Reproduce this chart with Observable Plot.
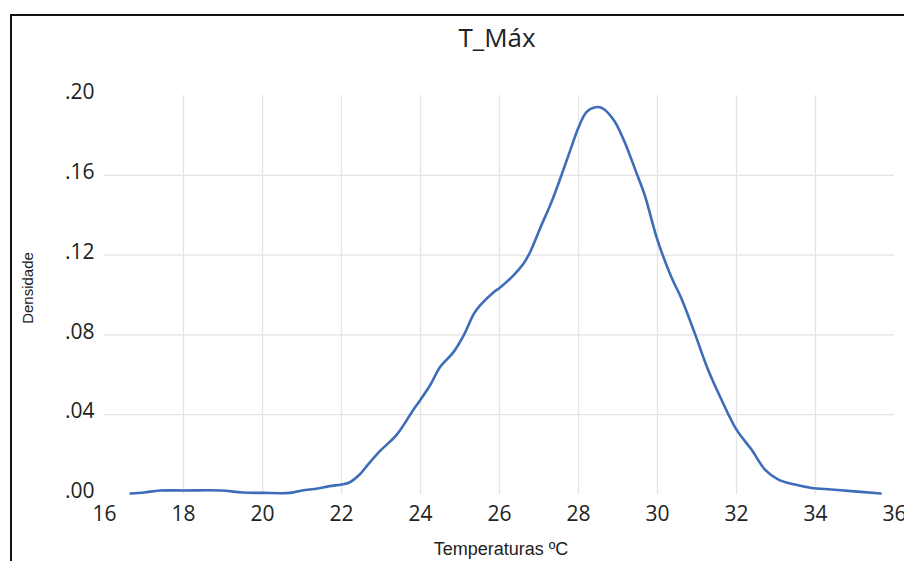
<!DOCTYPE html>
<html>
<head>
<meta charset="utf-8">
<script src="https://cdn.jsdelivr.net/npm/d3@7"></script>
<script src="https://cdn.jsdelivr.net/npm/@observablehq/plot@0.6"></script>
<style>
  html, body { margin: 0; padding: 0; background: #fff; }
  #wrap { position: relative; width: 904px; height: 561px; overflow: hidden; }
  #frame { position: absolute; left: 10px; top: 14px; width: 1000px; height: 1000px;
           border-top: 2px solid #111; border-left: 2px solid #111; box-sizing: border-box; }
  .lbl { position: absolute; white-space: nowrap; color: #222; line-height: 1; }
  #title { font-family: "Open Sans", sans-serif; font-size: 26px; left: 497px; top: 24px; transform: translateX(-50%); color: #222; }
  #xlabel { font-family: "Liberation Sans", Arial, sans-serif; font-size: 18px; left: 501px; top: 540px; transform: translateX(-50%); }
  #ylabel { font-family: "Liberation Sans", Arial, sans-serif; font-size: 15px; left: 27px; top: 288px; transform: translate(-50%, -50%) rotate(-90deg); }
  #chart { position: absolute; left: 0; top: 0; }
</style>
</head>
<body>
<div id="wrap">
  <div id="chart"></div>
  <div id="frame"></div>
  <div class="lbl" id="title">T_Máx</div>
  <div class="lbl" id="xlabel">Temperaturas ºC</div>
  <div class="lbl" id="ylabel">Densidade</div>
</div>
<script>
const temps = [16.66, 17.0, 17.4, 18.0, 18.95, 19.5, 20.0, 20.7, 21.0, 21.4, 21.7, 22.0, 22.2, 22.46, 22.63, 22.97,
  23.4, 23.82, 24.0, 24.25, 24.5, 24.84, 25.1, 25.35, 25.52, 25.86, 26.0, 26.36, 26.61, 26.78, 27.04, 27.3,
  27.55, 27.8, 28.0, 28.2, 28.4, 28.6, 28.9, 29.15, 29.33, 29.5, 29.67, 30.0, 30.35, 30.6, 30.94, 31.28,
  31.62, 32.0, 32.38, 32.72, 33.06, 33.48, 33.9, 34.4, 34.9, 35.65];
const density = [0.0005, 0.001, 0.002, 0.002, 0.002, 0.001, 0.0008, 0.0008, 0.002, 0.003, 0.0042, 0.005, 0.006, 0.010, 0.014, 0.0217,
  0.030, 0.0425, 0.0475, 0.055, 0.064, 0.0715, 0.080, 0.0905, 0.095, 0.1015, 0.1035, 0.110, 0.1158, 0.1217, 0.134, 0.1458,
  0.159, 0.173, 0.184, 0.1917, 0.194, 0.1937, 0.1875, 0.1775, 0.1685, 0.1595, 0.1505, 0.1275, 0.109, 0.0985, 0.081, 0.0625,
  0.0475, 0.0325, 0.0225, 0.0125, 0.0075, 0.005, 0.0033, 0.0025, 0.0017, 0.0005];
const xTicks = [16, 18, 20, 22, 24, 26, 28, 30, 32, 34, 36];
const xGrid = [18, 20, 22, 24, 26, 28, 30, 32, 34];
const yTicks = [0, 0.04, 0.08, 0.12, 0.16, 0.20];
const yGrid = [0.04, 0.08, 0.12, 0.16];

const data = temps.map((t, i) => ({t, d: density[i]}));

const chart = Plot.plot({
  width: 904,
  height: 561,
  marginLeft: 104,
  marginRight: 10,
  marginTop: 95,
  marginBottom: 67,
  style: { fontFamily: "'Open Sans', sans-serif", fontSize: "21px", color: "#222", background: "transparent", overflow: "visible" },
  x: { domain: [16, 36] },
  y: { domain: [0, 0.2] },
  marks: [
    Plot.ruleX(xGrid, { y1: 0, y2: 0.2, stroke: "#e4e4e4", strokeWidth: 1.3, strokeOpacity: 1 }),
    Plot.ruleY(yGrid, { stroke: "#e4e4e4", strokeWidth: 1.3, strokeOpacity: 1 }),
    Plot.axisX(xTicks, { tickSize: 0, tickPadding: 12, label: null, fontSize: 21 }),
    Plot.axisY(yTicks, { tickSize: 0, tickPadding: 10, label: null, fontSize: 21, dy: -3,
      tickFormat: d => d.toFixed(2).replace(/^0/, "") }),
    Plot.line(data, { x: "t", y: "d", stroke: "#3d6db8", strokeWidth: 2.6, curve: "catmull-rom" })
  ]
});
document.getElementById("chart").appendChild(chart);
</script>
</body>
</html>
